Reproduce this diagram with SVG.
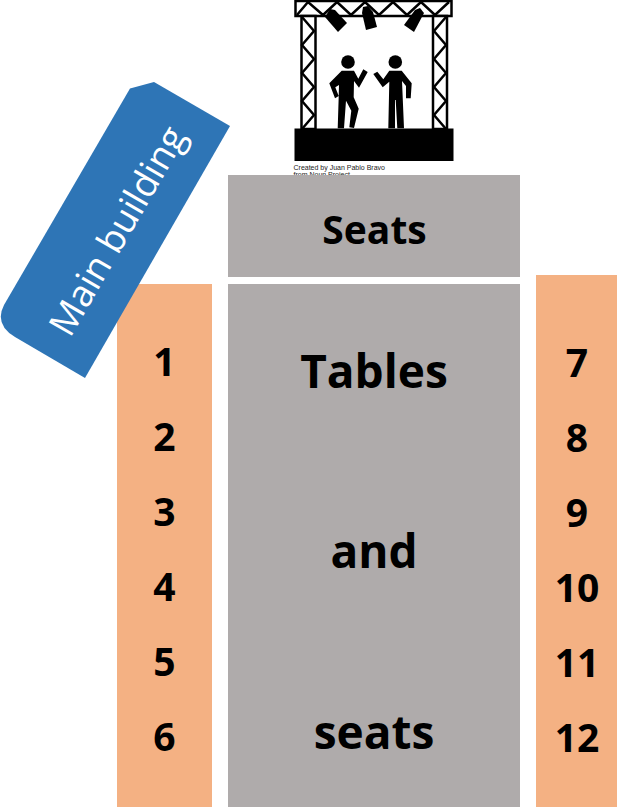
<svg xmlns="http://www.w3.org/2000/svg" width="626" height="810" viewBox="0 0 626 810">
<style>
.o{fill:#F4B183}.g{fill:#AFABAB}
.t{font-family:"Open Sans","Noto Sans",sans-serif;font-weight:700;fill:#000;text-anchor:middle}
.n{font-size:39px}.b{font-size:46px}
.k{fill:none;stroke:#000;stroke-width:2.500}
.c{font-family:"Liberation Sans",Arial,sans-serif;font-size:7px;fill:#222}
</style>
<rect width="626" height="810" fill="#fff"/>
<g id="stage">
<rect x="295.500" y="1" width="156" height="15" fill="#fff" stroke="#000" stroke-width="2.500"/>
<path class="k" d="M297 15L308 2L323 15L337 2L351 15L365 2L379 15L393 2L407 15L421 2L435 15L449 2"/>
<g fill="#fff" stroke="#000" stroke-width="2.500">
<rect x="301.500" y="16" width="14" height="113"/>
<rect x="433" y="16" width="14" height="113"/>
</g>
<path class="k" d="M302 17L314 31L302 45L314 59L302 73L314 87L302 101L314 115L302 129M446 17L434 31L446 45L434 59L446 73L434 87L446 101L434 115L446 129"/>
<rect x="294.500" y="128.500" width="159" height="32.500" fill="#000"/>
<g fill="#000">
<path d="M325 17L330 9L335 10L347 23L338 32Z"/>
<path d="M362 13L363 7L368 6L373 12L377 27L366 30Z"/>
<path d="M404 25L415 10L420 8L424 13L414 32Z"/>
<circle cx="348" cy="62" r="6.800"/>
<circle cx="395.300" cy="62" r="6.800"/>
<path d="M341.700 70.700L354 70.700L358.300 78.700L363.300 69.300L367.700 72L359 87.700L354 81L353.700 97.300L358.700 108.700L354 128L349.300 127.300L351.300 110.700L346 100.700L344 128.300L337.700 128.300L338.700 96.700L339 85L335.300 87.300L338.700 96L335 98.300L329.300 83.300Z"/>
<path d="M389.300 70.700L401.700 70.700L411.700 83.300L410.700 98.300L406 98.300L406 86L402 81L404 128.300L397.300 128.300L395.700 100L395 100L395 128.300L388.300 128.300L389.300 81.700L382.700 87.300L373.300 74L377.300 71.700L383.300 79.300Z"/>
</g>
<text class="c" x="293.500" y="170">Created by Juan Pablo Bravo</text>
<text class="c" x="293.500" y="177">from Noun Project</text>
</g>
<g id="seats">
<rect class="g" x="228" y="175" width="292" height="102"/>
<text class="t n" x="374.500" y="244">Seats</text>
</g>
<g id="tables">
<rect class="g" x="228" y="284" width="292" height="523"/>
<text class="t b" x="374" y="388">Tables</text>
<text class="t b" x="374" y="568">and</text>
<text class="t b" x="374" y="749">seats</text>
</g>
<g id="left-numbers">
<rect class="o" x="117" y="284" width="95" height="523"/>
<text class="t n" x="164.500" y="376">1</text>
<text class="t n" x="164.500" y="451">2</text>
<text class="t n" x="164.500" y="526">3</text>
<text class="t n" x="164.500" y="601">4</text>
<text class="t n" x="164.500" y="676">5</text>
<text class="t n" x="164.500" y="751">6</text>
</g>
<g id="right-numbers">
<rect class="o" x="536" y="275" width="81" height="532"/>
<text class="t n" x="577" y="377">7</text>
<text class="t n" x="577" y="452">8</text>
<text class="t n" x="577" y="527">9</text>
<text class="t n" x="577" y="602">10</text>
<text class="t n" x="577" y="677">11</text>
<text class="t n" x="577" y="752">12</text>
</g>
<g id="main-building">
<path d="M130 88.500L154 82L230 126L85 378L15 337Q-6 324 4 305Z" fill="#2E75B6"/>
<text transform="translate(116,230) rotate(-60)" x="0" y="0" text-anchor="middle" dominant-baseline="central" font-family="'Open Sans','Noto Sans',sans-serif" font-weight="400" font-size="37" fill="#fff">Main building</text>
</g>
</svg>
